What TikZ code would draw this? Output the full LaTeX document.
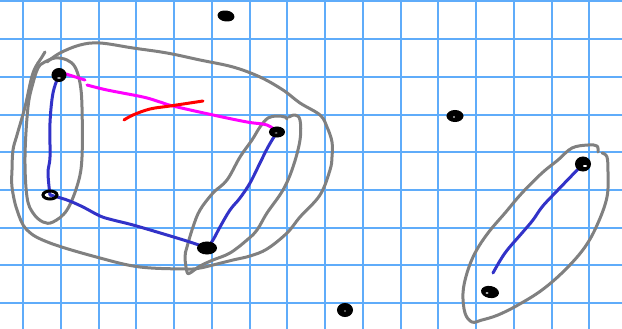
\documentclass[tikz,border=0pt]{standalone}
\usetikzlibrary{shapes.geometric}
\definecolor{gridblue}{RGB}{95,172,250}
\definecolor{loopgray}{RGB}{128,128,128}
\definecolor{penblue}{RGB}{50,50,200}
\definecolor{penpink}{RGB}{255,0,255}
\definecolor{penred}{RGB}{255,0,0}
\tikzset{
  gridline/.style={draw=gridblue, line width=2pt},
  loopline/.style={draw=loopgray, line width=3pt, line cap=round, line join=round},
  edgeblue/.style={draw=penblue, line width=3pt, line cap=round, line join=round},
  edgepink/.style={draw=penpink, line width=3pt, line cap=round, line join=round},
  edgered/.style={draw=penred, line width=3pt, line cap=round, line join=round},
  blob/.style={ellipse, fill=black, draw=black, line width=1pt, inner sep=0pt},
  shine/.style={fill=white, draw=none}
}
\begin{document}
\begin{tikzpicture}[x=1pt, y=-1pt]
\useasboundingbox (0,0) rectangle (622,329);
\fill[white] (0,0) rectangle (622,329);
% grid
\foreach \k in {0,...,15} { \draw[gridline] ({23.2+37.75*\k},0) -- ({23.2+37.75*\k},329); }
\foreach \k in {0,...,8} { \draw[gridline] (0,{1.5+37.7*\k}) -- (622,{1.5+37.7*\k}); }

% blobs (positions)
\coordinate (pT) at (226,16);
\coordinate (pA) at (59,75);
\coordinate (pB) at (277,132);
\coordinate (pC) at (50,195);
\coordinate (pD) at (207,248);
\coordinate (pE) at (455,116);
\coordinate (pF) at (583,164);
\coordinate (pG) at (490,292);
\coordinate (pH) at (345,310);

% gray loops
\draw[loopline] plot[smooth, tension=0.6] coordinates {
 (47,62) (60,53) (80,45) (100,43) (133,48) (167,53) (200,60) (233,67) (260,77) (283,90) (300,103) (320,115)
 (327,127) (332,142) (332,157) (330,170) (320,195) (300,217) (287,233) (267,249) (250,256) (233,260) (213,265) (200,268) (187,269)
 (140,267) (100,258) (50,243) (27,230) (17,210) (12,187) (12,170) (13,150) (17,135) (25,107) (33,73) (42,57) (45,52)};
\draw[loopline] plot[smooth cycle, tension=0.6] coordinates {
 (43,63) (55,58) (67,60) (75,67) (80,83) (82,107) (82,157) (78,183) (67,210) (53,222) (43,222) (33,213) (27,197) (25,157) (28,107) (33,83) (38,68)};
\draw[loopline] plot[smooth, tension=0.6] coordinates {
 (287,119) (285,117) (277,116) (268,118) (260,127) (252,140) (240,157) (227,180) (213,193) (200,210) (193,227) (187,247) (185,257) (187,272) (190,273)
 (200,266) (213,260) (230,253) (247,240) (257,230) (267,213) (283,190) (293,167) (300,140) (300,120) (295,115) (289,117)};
\draw[loopline] plot[smooth, tension=0.6] coordinates {
 (598,152) (597,146) (588,145) (572,148) (558,160) (542,173) (522,193) (505,213) (488,233) (475,253) (467,273) (463,293) (465,313) (472,322)
 (482,320) (498,315) (518,305) (542,290) (565,270) (585,247) (598,223) (607,197) (608,173) (607,157) (602,153)};

% pen strokes
\draw[edgepink] (pA) -- (66,74) -- (85,80);
\draw[edgepink] plot[smooth, tension=0.6] coordinates {(87,85) (107,90) (143,97) (160,102) (173,106) (213,115) (247,122) (267,125) (pB)};
\draw[edgered] plot[smooth, tension=0.6] coordinates {(124,120) (133,115) (150,109) (170,106) (203,101)};
\draw[edgeblue] plot[smooth, tension=0.6] coordinates {(pA) (53,93) (50,123) (50,157) (48,173) (pC)};
\draw[edgeblue] plot[smooth, tension=0.6] coordinates {(pC) (67,200) (83,207) (100,216) (113,220) (133,225) (167,235) (193,243) (pD)};
\draw[edgeblue] plot[smooth, tension=0.6] coordinates {(pD) (213,240) (220,227) (230,210) (240,198) (250,183) (260,163) (268,147) (pB)};
\draw[edgeblue] plot[smooth, tension=0.6] coordinates {(493,273) (505,253) (522,233) (533,220) (542,207) (555,193) (pF)};

% blobs
\node[blob, minimum width=16pt, minimum height=10pt, rotate=-8] (T) at (pT) {};
\node[blob, minimum width=14pt, minimum height=13pt] (A) at (pA) {};
\node[blob, minimum width=15pt, minimum height=10pt] (B) at (pB) {};
\node[ellipse, draw=black, line width=3pt, minimum width=14pt, minimum height=8pt, inner sep=0pt] (C) at (pC) {};
\node[blob, minimum width=19pt, minimum height=12pt] (D) at (pD) {};
\node[blob, minimum width=16pt, minimum height=11pt] (E) at (pE) {};
\node[blob, minimum width=15pt, minimum height=14pt] (F) at (pF) {};
\node[blob, minimum width=17pt, minimum height=11pt, rotate=-10] (G) at (pG) {};
\node[blob, minimum width=15pt, minimum height=13pt] (H) at (pH) {};
% small highlights
\fill[shine] (59,78) ellipse (2pt and 0.6pt);
\fill[shine] (276,133) ellipse (1.5pt and 0.5pt);
\fill[shine] (454,117) ellipse (0.8pt and 1pt);
\fill[shine] (585,166) ellipse (2pt and 1pt);
\fill[shine] (487,293) ellipse (1.5pt and 0.8pt);
\fill[shine] (345,311) ellipse (0.6pt and 1pt);
\end{tikzpicture}
\end{document}
